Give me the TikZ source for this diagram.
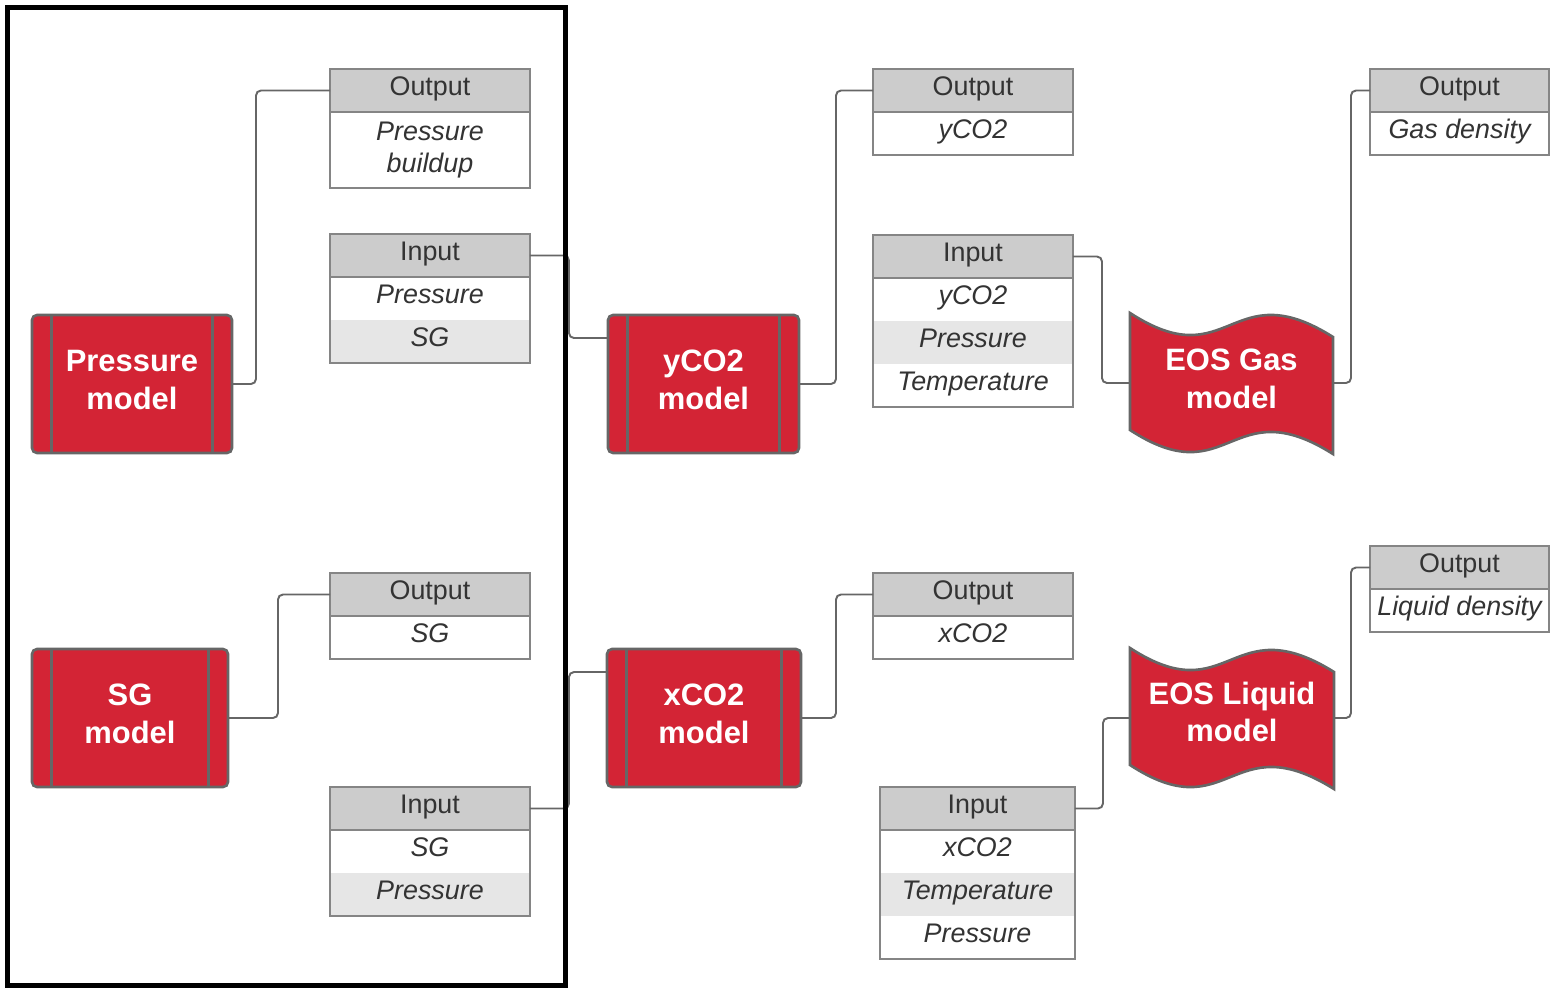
\documentclass[tikz,border=0pt]{standalone}
\usepackage{fontspec}
\setmainfont{Liberation Sans}
\usetikzlibrary{calc}
\definecolor{mred}{HTML}{D32435}
\definecolor{mgray}{HTML}{666666}
\definecolor{cgray}{HTML}{666666}
\definecolor{bgray}{HTML}{858585}
\definecolor{hgray}{HTML}{CCCCCC}
\definecolor{rgray}{HTML}{E6E6E6}
\definecolor{txt}{HTML}{333333}
\newcommand{\tfont}{\fontsize{15.3pt}{18.7pt}\selectfont}
\newcommand{\mfont}{\fontsize{17.6pt}{21.5pt}\selectfont\bfseries}
\newcommand{\lowstrut}{\rule[-0.28em]{0pt}{0.28em}}
\begin{document}
\begin{tikzpicture}[x=0.02cm,y=-0.02cm,
  tcell/.style={inner sep=0pt, outer sep=0pt, minimum height=0.86cm, text=txt, font=\tfont, align=center, text height=0.85em, text depth=0.25em},
  hdr/.style={tcell, draw=bgray, line width=0.8pt, fill=hgray},
  cw/.style={tcell, fill=white, font=\tfont\itshape},
  cg/.style={tcell, fill=rgray, font=\tfont\itshape},
  cml/.style={inner sep=0pt, outer sep=0pt, text=txt, fill=white, font=\tfont\itshape, align=center},
  tframe/.style={draw=bgray, line width=0.8pt},
  model/.style={draw=mgray, fill=mred, line width=1.5pt, rounded corners=0.1cm, text=white, font=\mfont, align=center, inner sep=0pt, outer sep=0pt, minimum height=2.76cm},
  mline/.style={draw=mgray, line width=1.5pt},
  wave/.style={draw=mgray, fill=mred, line width=1.5pt},
  etext/.style={inner sep=0pt, outer sep=0pt, text=white, font=\mfont, align=center, minimum height=2.3cm},
  conn/.style={draw=cgray, line width=1.1pt, rounded corners=0.1cm}
]
\useasboundingbox (0,0) rectangle (1550,988);
\fill[white] (0,0) rectangle (1550,988);

% ---------- model boxes ----------
\node[model, minimum width=4cm] (pm) at (132,384) {Pressure\\model\lowstrut};
\node[model, minimum width=3.92cm] (sm) at (130,718) {SG\\model\lowstrut};
\node[model, minimum width=3.82cm] (ym) at (703.5,384) {yCO2\\model\lowstrut};
\node[model, minimum width=3.88cm] (xm) at (704,718) {xCO2\\model\lowstrut};
\foreach \m in {pm,sm,ym,xm}{
  \draw[mline] ([xshift=0.39cm]\m.north west) -- ([xshift=0.39cm]\m.south west);
  \draw[mline] ([xshift=-0.39cm]\m.north east) -- ([xshift=-0.39cm]\m.south east);
}

% ---------- EOS wave shapes ----------
\draw[wave] (1130,313) .. controls (1230,378) and (1230,272) .. (1333,337)
  -- (1333,454) .. controls (1230,389) and (1230,495) .. (1130,430) -- cycle;
\node[etext, minimum width=4.06cm] (eg) at (1231.5,383) {EOS Gas\\model\lowstrut};
\draw[wave] (1130,648) .. controls (1230,713) and (1230,607) .. (1334,672)
  -- (1334,789) .. controls (1230,724) and (1230,830) .. (1130,765) -- cycle;
\node[etext, minimum width=4.08cm] (el) at (1232,718) {EOS Liquid\\model\rule[-0.4em]{0pt}{0.4em}};

% ---------- tables ----------
% Output: Pressure buildup
\node[hdr, minimum width=4cm, anchor=north west] (o1h) at (330,69) {Output};
\node[cml, minimum width=4cm, minimum height=1.52cm, anchor=north] (o1b) at (o1h.south) {Pressure\\buildup};
\draw[tframe] (o1h.north west) rectangle (o1b.south east);
\draw[tframe] (o1h.south west) -- (o1h.south east);

% Input: Pressure, SG
\node[hdr, minimum width=4cm, anchor=north west] (i1h) at (330,234) {Input};
\node[cw, minimum width=4cm, anchor=north] (i1a) at (i1h.south) {Pressure};
\node[cg, minimum width=4cm, anchor=north] (i1b) at (i1a.south) {SG};
\draw[tframe] (i1h.north west) rectangle (i1b.south east);
\draw[tframe] (i1h.south west) -- (i1h.south east);

% Output: SG
\node[hdr, minimum width=4cm, anchor=north west] (o4h) at (330,573) {Output};
\node[cw, minimum width=4cm, anchor=north] (o4b) at (o4h.south) {SG};
\draw[tframe] (o4h.north west) rectangle (o4b.south east);
\draw[tframe] (o4h.south west) -- (o4h.south east);

% Input: SG, Pressure
\node[hdr, minimum width=4cm, anchor=north west] (i3h) at (330,787) {Input};
\node[cw, minimum width=4cm, anchor=north] (i3a) at (i3h.south) {SG};
\node[cg, minimum width=4cm, anchor=north] (i3b) at (i3a.south) {Pressure};
\draw[tframe] (i3h.north west) rectangle (i3b.south east);
\draw[tframe] (i3h.south west) -- (i3h.south east);

% Output: yCO2
\node[hdr, minimum width=4cm, anchor=north west] (o2h) at (873,69) {Output};
\node[cw, minimum width=4cm, anchor=north] (o2b) at (o2h.south) {yCO2};
\draw[tframe] (o2h.north west) rectangle (o2b.south east);
\draw[tframe] (o2h.south west) -- (o2h.south east);

% Input: yCO2, Pressure, Temperature
\node[hdr, minimum width=4cm, anchor=north west] (i2h) at (873,235) {Input};
\node[cw, minimum width=4cm, anchor=north] (i2a) at (i2h.south) {yCO2};
\node[cg, minimum width=4cm, anchor=north] (i2b) at (i2a.south) {Pressure};
\node[cw, minimum width=4cm, anchor=north] (i2c) at (i2b.south) {Temperature};
\draw[tframe] (i2h.north west) rectangle (i2c.south east);
\draw[tframe] (i2h.south west) -- (i2h.south east);

% Output: xCO2
\node[hdr, minimum width=4cm, anchor=north west] (o5h) at (873,573) {Output};
\node[cw, minimum width=4cm, anchor=north] (o5b) at (o5h.south) {xCO2};
\draw[tframe] (o5h.north west) rectangle (o5b.south east);
\draw[tframe] (o5h.south west) -- (o5h.south east);

% Input: xCO2, Temperature, Pressure
\node[hdr, minimum width=3.9cm, anchor=north west] (i4h) at (880,787) {Input};
\node[cw, minimum width=3.9cm, anchor=north] (i4a) at (i4h.south) {xCO2};
\node[cg, minimum width=3.9cm, anchor=north] (i4b) at (i4a.south) {Temperature};
\node[cw, minimum width=3.9cm, anchor=north] (i4c) at (i4b.south) {Pressure};
\draw[tframe] (i4h.north west) rectangle (i4c.south east);
\draw[tframe] (i4h.south west) -- (i4h.south east);

% Output: Gas density
\node[hdr, minimum width=3.58cm, anchor=north west] (o3h) at (1370,69) {Output};
\node[cw, minimum width=3.58cm, anchor=north] (o3b) at (o3h.south) {Gas density};
\draw[tframe] (o3h.north west) rectangle (o3b.south east);
\draw[tframe] (o3h.south west) -- (o3h.south east);

% Output: Liquid density
\node[hdr, minimum width=3.58cm, anchor=north west] (o6h) at (1370,546) {Output};
\node[cw, minimum width=3.58cm, anchor=north] (o6b) at (o6h.south) {Liquid density};
\draw[tframe] (o6h.north west) rectangle (o6b.south east);
\draw[tframe] (o6h.south west) -- (o6h.south east);

% ---------- connectors ----------
\draw[conn] (pm.east) -- ++(24,0) |- (o1h.west);
\draw[conn] (i1h.east) -- ++(39,0) |- ([yshift=0.92cm]ym.west);
\draw[conn] (ym.east) -- ++(37,0) |- (o2h.west);
\draw[conn] (i2h.east) -- ++(29,0) |- (eg.west);
\draw[conn] (eg.east) -- ++(18,0) |- (o3h.west);
\draw[conn] (sm.east) -- ++(50,0) |- (o4h.west);
\draw[conn] (i3h.east) -- ++(39,0) |- ([yshift=0.92cm]xm.west);
\draw[conn] (xm.east) -- ++(35,0) |- (o5h.west);
\draw[conn] (i4h.east) -- ++(28,0) |- (el.west);
\draw[conn] (el.east) -- ++(17,0) |- (o6h.west);

% ---------- group frame ----------
\draw[black, line width=0.09cm] (7.5,7.5) rectangle (565.5,985.5);
\end{tikzpicture}
\end{document}
